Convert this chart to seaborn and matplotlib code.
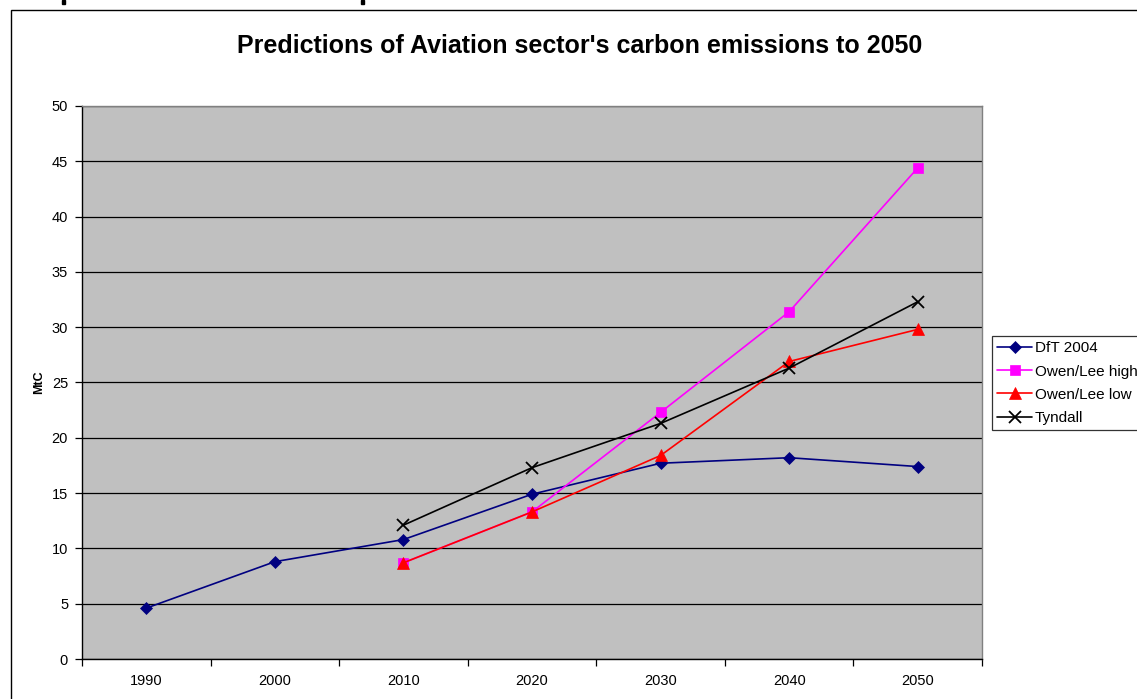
import numpy as np
import pandas as pd
import seaborn as sns
import matplotlib.pyplot as plt
from matplotlib.patches import Rectangle

years = ['1990', '2000', '2010', '2020', '2030', '2040', '2050']
dft_2004 = [4.6, 8.8, 10.8, 14.9, 17.7, 18.2, 17.4]
owen_lee_high = [np.nan, np.nan, 8.7, 13.3, 22.3, 31.4, 44.4]
owen_lee_low = [np.nan, np.nan, 8.7, 13.3, 18.4, 26.9, 29.8]
tyndall = [np.nan, np.nan, 12.1, 17.3, 21.3, 26.3, 32.3]

series = [
    ('DfT 2004', dft_2004, '#000080', 'D', 6.5),
    ('Owen/Lee high', owen_lee_high, '#FF00FF', 's', 7.5),
    ('Owen/Lee low', owen_lee_low, '#FF0000', '^', 8),
    ('Tyndall', tyndall, '#000000', 'x', 8),
]

sns.set_theme(style='white')
plt.rcParams['font.family'] = ['Liberation Sans', 'DejaVu Sans']
plt.rcParams['text.color'] = 'black'
plt.rcParams['xtick.color'] = 'black'
plt.rcParams['ytick.color'] = 'black'
plt.rcParams['axes.labelcolor'] = 'black'

fig = plt.figure(figsize=(11.37, 6.99), dpi=100)
ax = fig.add_axes([0.0721, 0.0572, 0.7916, 0.7912])
ax.set_facecolor('#C0C0C0')

# outer chart border (cut off at right/bottom like the screenshot)
fig.patches.append(Rectangle((11 / 1137, -0.1), 1.2, (699 - 10) / 699 + 0.1,
                             transform=fig.transFigure, fill=False,
                             edgecolor='black', linewidth=1.0, zorder=0))
# bits of a heading cut off above the chart
for fx in [62 / 1137, 361 / 1137]:
    fig.patches.append(Rectangle((fx, 1 - 4 / 699), 3 / 1137, 4 / 699,
                                 transform=fig.transFigure, color='black'))

x = np.arange(len(years))
for name, vals, color, marker, ms in series:
    df = pd.DataFrame({'x': x, 'y': vals}).dropna()
    sns.lineplot(data=df, x='x', y='y', ax=ax, color=color, marker=marker,
                 markersize=ms, markeredgecolor=color,
                 markeredgewidth=1.3 if marker == 'x' else 0.5,
                 linewidth=1.2, label=name, zorder=3)

ax.set_xlim(-0.5, len(years) - 0.5)
ax.set_ylim(0, 50)
ax.set_yticks(np.arange(0, 51, 5))
ax.yaxis.grid(True, color='black', linewidth=0.9)
ax.set_axisbelow(True)

ax.set_xticks(x)
ax.set_xticklabels(years)
ax.set_xticks(np.arange(-0.5, len(years)), minor=True)
ax.tick_params(axis='x', which='major', length=0, labelsize=10.5, pad=11)
ax.tick_params(axis='x', which='minor', length=5, width=0.9, color='black',
               direction='out', bottom=True)
ax.tick_params(axis='y', length=5, width=0.9, color='black', direction='out',
               left=True, labelsize=10.5, pad=5)

for side in ['left', 'bottom']:
    ax.spines[side].set_color('black')
    ax.spines[side].set_linewidth(1.0)
for side in ['top', 'right']:
    ax.spines[side].set_color('#808080')
    ax.spines[side].set_linewidth(1.0)

ax.set_xlabel('')
ax.set_ylabel('MtC', fontsize=9, fontweight='bold', labelpad=5)

fig.text(0.51, 0.934, "Predictions of Aviation sector's carbon emissions to 2050",
         ha='center', va='center', fontsize=18, fontweight='bold')

leg = ax.legend(loc='upper left', bbox_to_anchor=(1.011, 0.584), fontsize=11,
                frameon=True, fancybox=False, borderaxespad=0,
                labelspacing=0.6, handlelength=2.3, handletextpad=0.15,
                borderpad=0.35)
leg.get_frame().set_edgecolor('black')
leg.get_frame().set_linewidth(0.9)
leg.get_frame().set_facecolor('white')

fig.savefig('out.png', dpi=100)
